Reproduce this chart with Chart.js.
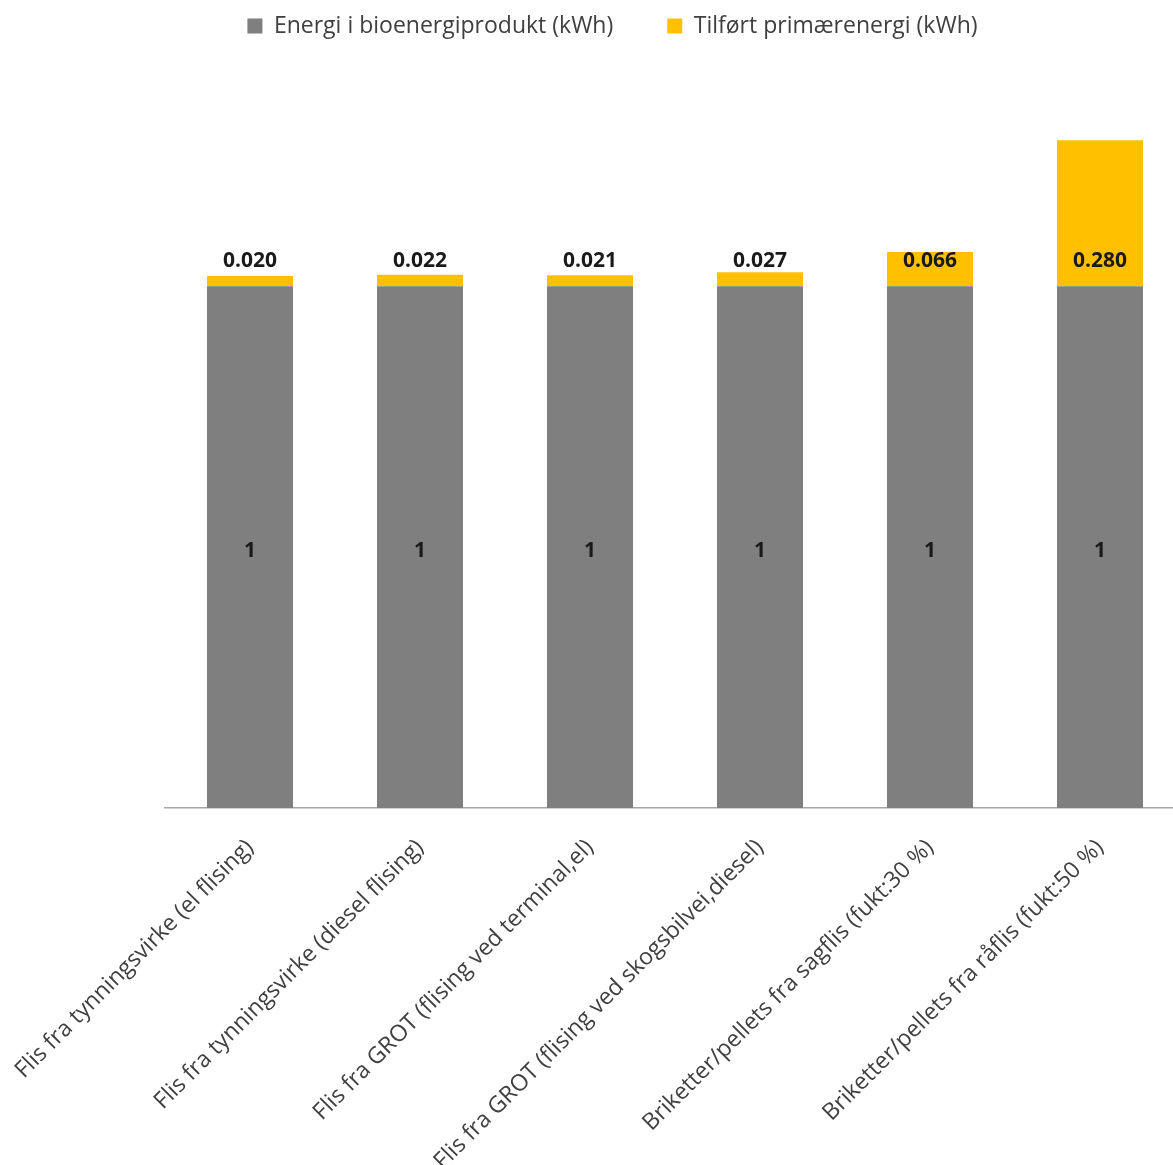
<!DOCTYPE html>
<html>
<head>
<meta charset="utf-8">
<script src="https://cdn.jsdelivr.net/npm/chart.js@4/dist/chart.umd.min.js"></script>
<style>
  body { margin: 0; overflow: hidden; background: #fff; }
  #wrap { width: 1225px; height: 1165px; }
</style>
</head>
<body>
<div id="wrap"><canvas id="grafico"></canvas></div>
<script>
const kategorier = [
  'Flis fra tynningsvirke (el flising)',
  'Flis fra tynningsvirke (diesel flising)',
  'Flis fra GROT (flising ved terminal,el)',
  'Flis fra GROT (flising ved skogsbilvei,diesel)',
  'Briketter/pellets fra sagflis (fukt:30 %)',
  'Briketter/pellets fra råflis (fukt:50 %)'
];
const energiBio = [1, 1, 1, 1, 1, 1];
const primaerEnergi = [0.020, 0.022, 0.021, 0.027, 0.066, 0.280];

const fonte = '"Open Sans", "DejaVu Sans", sans-serif';

// skriver verdiene på søylene
const verdiEtiketter = {
  id: 'verdiEtiketter',
  afterDatasetsDraw(chart) {
    const ctx = chart.ctx;
    ctx.save();
    ctx.font = 'bold 21px ' + fonte;
    ctx.fillStyle = '#1a1a1a';
    ctx.textAlign = 'center';
    ctx.textBaseline = 'middle';
    chart.getDatasetMeta(0).data.forEach((bar, i) => {
      ctx.fillText(String(energiBio[i]), bar.x, (bar.y + bar.base) / 2 + 4);
    });
    chart.getDatasetMeta(1).data.forEach((bar, i) => {
      ctx.fillText(primaerEnergi[i].toFixed(3), bar.x, bar.base - 25);
    });
    ctx.restore();
  }
};

new Chart(document.getElementById('grafico'), {
  type: 'bar',
  data: {
    labels: kategorier,
    datasets: [
      {
        label: 'Energi i bioenergiprodukt (kWh)',
        data: energiBio,
        backgroundColor: '#7f7f7f'
      },
      {
        label: 'Tilført primærenergi (kWh)',
        data: primaerEnergi,
        backgroundColor: '#ffc000'
      }
    ]
  },
  options: {
    animation: false,
    responsive: true,
    maintainAspectRatio: false,
    layout: { padding: { top: -39.5, left: 0, right: 0, bottom: 0 } },
    datasets: {
      bar: { barPercentage: 0.506, categoryPercentage: 1 }
    },
    plugins: {
      tooltip: { enabled: false },
      legend: {
        position: 'top',
        labels: {
          boxWidth: 15,
          boxHeight: 15,
          padding: 54,
          color: '#404040',
          font: { family: fonte, size: 23 }
        }
      }
    },
    scales: {
      x: {
        stacked: true,
        grid: { display: false },
        border: { display: true, color: '#a6a6a6', width: 1.5 },
        ticks: {
          autoSkip: false,
          minRotation: 45,
          maxRotation: 45,
          padding: 18,
          color: '#404040',
          font: { family: fonte, size: 23 }
        },
        afterFit(scale) {
          scale.paddingLeft = 165;
          scale.paddingRight = 40;
          scale.height = 357;
        }
      },
      y: {
        stacked: true,
        display: false,
        min: 0,
        max: 1.4578
      }
    }
  },
  plugins: [verdiEtiketter]
});
</script>
</body>
</html>
